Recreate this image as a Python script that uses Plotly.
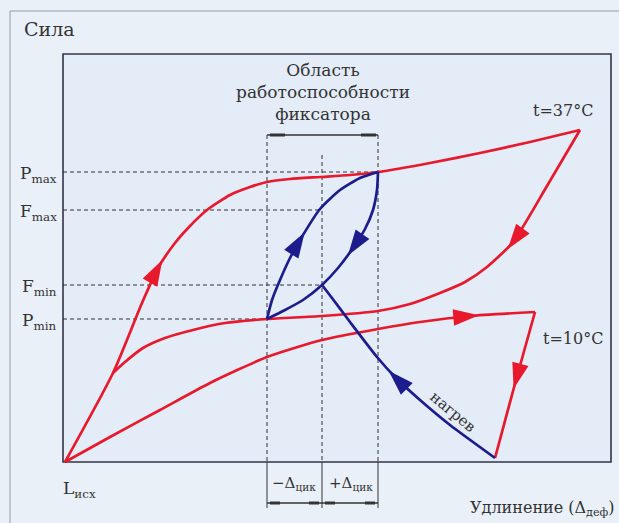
import math
import plotly.graph_objects as go

# ---- data (elongation units on x, force units on y) ----
load37_x = [0, 48, 77, 93, 110, 125, 142, 165, 185, 202, 225, 255, 285, 313, 365, 415, 465, 515]
load37_y = [0, 89, 159, 194, 219, 236, 252, 267, 275, 280, 283, 285, 287, 290, 299, 309, 320, 332]

unload37_x = [515, 482, 448, 422, 400, 375, 345, 313, 257, 202, 160, 128, 100, 78, 60, 48]
unload37_y = [332, 276, 220, 195, 180, 169, 158, 151, 146, 143, 139, 132, 124, 114, 100, 89]

cool10_x = [0, 45, 95, 145, 202, 257, 313, 355, 405, 470]
cool10_y = [0, 25, 52, 79, 105, 122, 133, 140, 146, 150]
drop10_x = [470, 451, 430]
drop10_y = [150, 82, 4]

cyc_up_x = [202, 207, 215, 225, 235, 255, 275, 295, 313]
cyc_up_y = [143, 162, 182, 204, 222, 253, 272, 284, 290]
cyc_dn_x = [313, 312, 308, 300, 288, 273, 257, 238, 220, 202]
cyc_dn_y = [290, 272, 252, 233, 214, 194, 177, 162, 152, 143]

heat_x = [430, 385, 355, 330, 312, 285, 267, 257]
heat_y = [4, 37, 62, 85, 105, 140, 164, 177]

level_names = ["P<sub>max</sub>", "F<sub>max</sub>", "F<sub>min</sub>", "P<sub>min</sub>"]
level_vals = [290, 252, 177, 143]
level_ends = [313, 257, 257, 202]
cycle_x = [202, 257, 313]

RED = "#e8192c"
BLUE = "#1c1c8c"
INK = "#333333"
FONT = "DejaVu Serif"
BG = "#eaf0f8"

fig = go.Figure()


def curve(xs, ys, color, shape="spline"):
    fig.add_trace(go.Scatter(x=xs, y=ys, mode="lines",
                             line=dict(color=color, width=2.7, shape=shape, smoothing=0.6),
                             hoverinfo="skip", showlegend=False))


def arrow(xs, ys, i, color):
    dx = xs[i + 1] - xs[i - 1]
    dy = ys[i + 1] - ys[i - 1]
    ang = math.degrees(math.atan2(dx, dy))
    # place the tip slightly ahead of the vertex along the direction
    n = math.hypot(dx, dy)
    fig.add_trace(go.Scatter(x=[xs[i] + 9 * dx / n], y=[ys[i] + 9 * dy / n], mode="markers",
                             marker=dict(symbol="arrow", size=27, angle=ang, color=color,
                                         line=dict(width=0)),
                             hoverinfo="skip", showlegend=False))


# dashed guide lines
for name, v, e in zip(level_names, level_vals, level_ends):
    fig.add_trace(go.Scatter(x=[-2, e], y=[v, v], mode="lines",
                             line=dict(color=INK, width=1, dash="4px,3px"),
                             hoverinfo="skip", showlegend=False))
tops = [327, 307, 327]
for cx, t in zip(cycle_x, tops):
    fig.add_trace(go.Scatter(x=[cx, cx], y=[t, 0], mode="lines",
                             line=dict(color=INK, width=1, dash="4px,3px"),
                             hoverinfo="skip", showlegend=False))
    fig.add_trace(go.Scatter(x=[cx, cx], y=[0, -46], mode="lines",
                             line=dict(color=INK, width=1),
                             hoverinfo="skip", showlegend=False))

# brackets
fig.add_trace(go.Scatter(x=[cycle_x[0], cycle_x[2]], y=[327, 327], mode="lines",
                         line=dict(color=INK, width=1.3), hoverinfo="skip", showlegend=False))
for seg in ([205, 220], [296, 311]):
    fig.add_trace(go.Scatter(x=seg, y=[327, 327], mode="lines",
                             line=dict(color=INK, width=3), hoverinfo="skip", showlegend=False))
fig.add_trace(go.Scatter(x=[cycle_x[0], cycle_x[2]], y=[-41, -41], mode="lines",
                         line=dict(color=INK, width=1.3), hoverinfo="skip", showlegend=False))
for seg in ([205, 215], [244, 254], [260, 270], [300, 310]):
    fig.add_trace(go.Scatter(x=seg, y=[-41, -41], mode="lines",
                             line=dict(color=INK, width=3), hoverinfo="skip", showlegend=False))

# curves
curve(load37_x, load37_y, RED)
curve(unload37_x, unload37_y, RED)
curve(cool10_x, cool10_y, RED)
curve(drop10_x, drop10_y, RED, shape="linear")
curve(cyc_up_x, cyc_up_y, BLUE)
curve(cyc_dn_x, cyc_dn_y, BLUE)
curve(heat_x, heat_y, BLUE)

arrow(load37_x, load37_y, 3, RED)
arrow(unload37_x, unload37_y, 2, RED)
arrow(cool10_x, cool10_y, 8, RED)
arrow(drop10_x, drop10_y, 1, RED)
arrow(cyc_up_x, cyc_up_y, 4, BLUE)
arrow(cyc_dn_x, cyc_dn_y, 4, BLUE)
arrow(heat_x, heat_y, 3, BLUE)

# frames
fig.add_shape(type="rect", x0=-55, x1=580, y0=-85, y1=451, line=dict(color="#9a9aa4", width=1), layer="below")
fig.add_shape(type="rect", x0=-2, x1=546, y0=0, y1=408, line=dict(color="#33334a", width=1.6),
              fillcolor="#e3ecf7", layer="below")

ann = []


def text(x, y, s, size=17, xanchor="center", angle=0):
    ann.append(dict(x=x, y=y, text=s, showarrow=False, xanchor=xanchor, yanchor="middle",
                    textangle=angle, font=dict(family=FONT, size=size, color=INK)))


text(-43, 433, "Сила", size=19, xanchor="left")
for name, v in zip(level_names, level_vals):
    text(-6, v - 2, name, size=17, xanchor="right")
text(-4, -27, "L<sub>исх</sub>", size=17, xanchor="left")
text(229, -21, "−Δ<sub>цик</sub>", size=15)
text(286, -21, "+Δ<sub>цик</sub>", size=15)
text(552, -46, "Удлинение (Δ<sub>деф</sub>)", size=16, xanchor="right")
ann.append(dict(x=258, y=370, text="Область<br>работоспособности<br>фиксатора", showarrow=False,
                xanchor="center", yanchor="middle", align="center",
                font=dict(family=FONT, size=17, color=INK)))
text(498, 352, "t=37°C", size=16)
text(508, 124, "t=10°C", size=16)
text(388, 50, "нагрев", size=15, angle=40)

fig.update_layout(
    width=619, height=523,
    margin=dict(l=0, r=0, t=0, b=0),
    paper_bgcolor=BG, plot_bgcolor=BG,
    xaxis=dict(range=[-65, 554], visible=False, fixedrange=True),
    yaxis=dict(range=[-61, 462], visible=False, fixedrange=True),
    annotations=ann,
    showlegend=False,
)
fig.write_html(
    "out.html",
    config={"displayModeBar": False, "staticPlot": True},
    post_script="document.documentElement.style.margin='0';document.body.style.margin='0';"
                "document.body.style.overflow='hidden';document.body.style.background='" + BG + "';",
)
